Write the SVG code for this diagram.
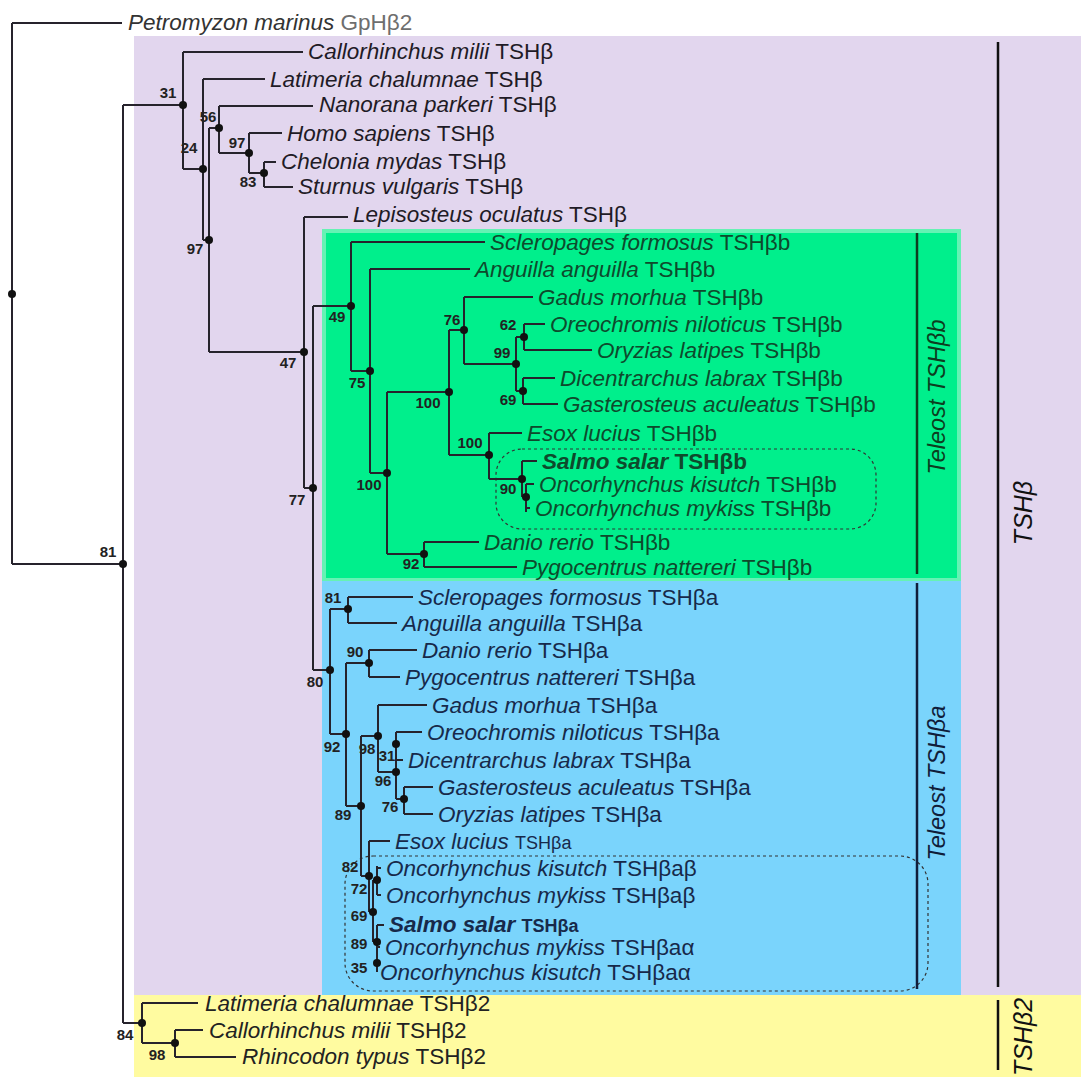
<svg xmlns="http://www.w3.org/2000/svg" width="1081" height="1077" viewBox="0 0 1081 1077">
<style>
.t{font-family:"Liberation Sans",Arial,sans-serif;font-size:22.5px}
.i{font-style:italic}
.bd{font-weight:bold}
.s{font-family:"Liberation Sans",Arial,sans-serif;font-size:15px;font-weight:bold;text-anchor:middle}
.br{stroke:#26232c;stroke-width:2;fill:none}
.dot{fill:#111}
.p{fill:#1f1b26}
.g{fill:#0e4a2c}
.b{fill:#17294a}
.y{fill:#222}
.side{font-family:"Liberation Sans",Arial,sans-serif;font-style:italic}
</style>
<rect width="1081" height="1077" fill="#ffffff"/>
<g id="regions">
<rect x="134" y="36" width="947" height="959" fill="#e2d6ee"/>
<rect x="134" y="995" width="947" height="82" fill="#fffba0"/>
<rect x="324" y="231" width="635" height="349" fill="#00ef8c" stroke="#66f2b4" stroke-width="4"/>
<rect x="322" y="581" width="639" height="414" fill="#7ad4fc"/>
<rect x="496" y="449" width="380" height="80" rx="26" fill="none" stroke="#333" stroke-width="1.2" stroke-dasharray="3,3"/>
<rect x="345" y="856" width="583" height="135" rx="28" fill="none" stroke="#333" stroke-width="1.2" stroke-dasharray="3,3"/>
</g>
<g id="connectors" class="br">
<path d="M12 23V564M12 23H122M12 564H123"/>
<path d="M123 105V1023M123 105H183M123 1023H142"/>
<path d="M183 52V169M183 52H303M183 169H203"/>
<path d="M203 79V240M203 79H265M203 240H209"/>
<path d="M209 128V352M209 128H219M209 352H304"/>
<path d="M219 106V153M219 106H313M219 153H249"/>
<path d="M249 133V173M249 133H282M249 173H264"/>
<path d="M264 162V187M264 162H276M264 187H293"/>
<path d="M304 217V488M304 217H348M304 488H313"/>
<path d="M313 306V670M313 306H351M313 670H330"/>
<path d="M351 242V371M351 242H485M351 371H370"/>
<path d="M370 269V473M370 269H470M370 473H387"/>
<path d="M387 392V554M387 392H449M387 554H424"/>
<path d="M449 330V455M449 330H464M449 455H489"/>
<path d="M464 297V364M464 297H533M464 364H516"/>
<path d="M516 337V391M516 337H524M516 391H523"/>
<path d="M524 324V350M524 324H545M524 350H592"/>
<path d="M523 378V404M523 378H555M523 404H558"/>
<path d="M489 433V479M489 433H522M489 479H522"/>
<path d="M522 461V497M522 461H537M522 497H526"/>
<path d="M526 484V512M526 484H534M526 508H530"/>
<path d="M424 542V567M424 542H479M424 567H517"/>
<path d="M330 609V734M330 609H348M330 734H346"/>
<path d="M348 597V623M348 597H413M348 623H397"/>
<path d="M346 663V806M346 663H369M346 806H361"/>
<path d="M369 650V677M369 650H417M369 677H400"/>
<path d="M361 736V876M361 736H378M361 876H369"/>
<path d="M378 705V772M378 705H427M378 772H396"/>
<path d="M396 732V799M396 732H422M396 760H403M396 799H404"/>
<path d="M404 787V814M404 787H433M404 814H433"/>
<path d="M369 841V912M369 841H390M369 912H373"/>
<path d="M373 880V942M373 880H377M373 942H377"/>
<path d="M377 866V895M377 868H381M377 895H381"/>
<path d="M377 925V972M377 925H384M377 947H380"/>
<path d="M142 1003V1043M142 1003H198M142 1043H175"/>
<path d="M175 1030V1057M175 1030H203M175 1057H236"/>
</g>
<g id="side-bars">
<path d="M917 233V574" stroke="#0d3d20" stroke-width="2.5"/>
<path d="M917 583V989" stroke="#101d3a" stroke-width="2.5"/>
<path d="M998 42V987" stroke="#111" stroke-width="2.5"/>
<path d="M998 1000V1070" stroke="#111" stroke-width="2.5"/>
<text class="side" font-size="23.5" fill="#0d3d20" text-anchor="middle" transform="translate(945 397) rotate(-90)">Teleost TSHβb</text>
<text class="side" font-size="23.5" fill="#101d3a" text-anchor="middle" transform="translate(945 783) rotate(-90)">Teleost TSHβa</text>
<text class="side" font-size="25" fill="#111" text-anchor="middle" transform="translate(1032 513) rotate(-90)">TSHβ</text>
<text class="side" font-size="25" fill="#111" text-anchor="middle" transform="translate(1032 1037) rotate(-90)">TSHβ2</text>
</g>
<g id="internal-nodes">
<g id="n-root"><circle class="dot" cx="12" cy="294" r="4"/></g>
<g id="n81"><circle class="dot" cx="123" cy="564" r="4"/><text class="s" x="108" y="557" fill="#222">81</text></g>
<g id="n31"><circle class="dot" cx="183" cy="105" r="4"/><text class="s" x="168" y="98" fill="#222">31</text></g>
<g id="n24"><circle class="dot" cx="203" cy="169" r="4"/><text class="s" x="189" y="153" fill="#222">24</text></g>
<g id="n97a"><circle class="dot" cx="209" cy="240" r="4"/><text class="s" x="195" y="254" fill="#222">97</text></g>
<g id="n56"><circle class="dot" cx="219" cy="128" r="4"/><text class="s" x="208" y="122" fill="#222">56</text></g>
<g id="n97b"><circle class="dot" cx="249" cy="153" r="4"/><text class="s" x="237" y="148" fill="#222">97</text></g>
<g id="n83"><circle class="dot" cx="264" cy="173" r="4"/><text class="s" x="248" y="187" fill="#222">83</text></g>
<g id="n47"><circle class="dot" cx="304" cy="352" r="4"/><text class="s" x="288" y="368" fill="#222">47</text></g>
<g id="n77"><circle class="dot" cx="313" cy="488" r="4"/><text class="s" x="297" y="505" fill="#222">77</text></g>
<g id="n49"><circle class="dot" cx="351" cy="306" r="4"/><text class="s" x="337" y="322" fill="#222">49</text></g>
<g id="n75"><circle class="dot" cx="370" cy="371" r="4"/><text class="s" x="357" y="388" fill="#222">75</text></g>
<g id="n100c"><circle class="dot" cx="387" cy="473" r="4"/><text class="s" x="369" y="490" fill="#222">100</text></g>
<g id="n100a"><circle class="dot" cx="449" cy="392" r="4"/><text class="s" x="428" y="408" fill="#222">100</text></g>
<g id="n76a"><circle class="dot" cx="464" cy="330" r="4"/><text class="s" x="452" y="325" fill="#222">76</text></g>
<g id="n99"><circle class="dot" cx="516" cy="364" r="4"/><text class="s" x="502" y="358" fill="#222">99</text></g>
<g id="n62"><circle class="dot" cx="524" cy="337" r="4"/><text class="s" x="508" y="330" fill="#222">62</text></g>
<g id="n69a"><circle class="dot" cx="523" cy="391" r="4"/><text class="s" x="508" y="405" fill="#222">69</text></g>
<g id="n100b"><circle class="dot" cx="489" cy="455" r="4"/><text class="s" x="470" y="448" fill="#222">100</text></g>
<g id="n90a"><circle class="dot" cx="522" cy="479" r="4"/><text class="s" x="508" y="494" fill="#222">90</text></g>
<g id="n90a2"><circle class="dot" cx="526" cy="497" r="4"/></g>
<g id="n92a"><circle class="dot" cx="424" cy="554" r="4"/><text class="s" x="411" y="569" fill="#222">92</text></g>
<g id="n80"><circle class="dot" cx="330" cy="670" r="4"/><text class="s" x="315" y="687" fill="#222">80</text></g>
<g id="n81b"><circle class="dot" cx="348" cy="609" r="4"/><text class="s" x="333" y="603" fill="#222">81</text></g>
<g id="n92b"><circle class="dot" cx="346" cy="734" r="4"/><text class="s" x="332" y="752" fill="#222">92</text></g>
<g id="n90b"><circle class="dot" cx="369" cy="663" r="4"/><text class="s" x="355" y="657" fill="#222">90</text></g>
<g id="n89a"><circle class="dot" cx="361" cy="806" r="4"/><text class="s" x="343" y="820" fill="#222">89</text></g>
<g id="n98a"><circle class="dot" cx="378" cy="736" r="4"/><text class="s" x="367" y="754" fill="#222">98</text></g>
<g id="n96"><circle class="dot" cx="396" cy="772" r="4"/><text class="s" x="383" y="786" fill="#222">96</text></g>
<g id="n31b"><circle class="dot" cx="396" cy="744" r="4"/><text class="s" x="387" y="761" fill="#222">31</text></g>
<g id="n76b"><circle class="dot" cx="404" cy="799" r="4"/><text class="s" x="390" y="812" fill="#222">76</text></g>
<g id="n82"><circle class="dot" cx="369" cy="876" r="4"/><text class="s" x="350" y="872" fill="#222">82</text></g>
<g id="n72"><circle class="dot" cx="377" cy="880" r="4"/><text class="s" x="359" y="894" fill="#222">72</text></g>
<g id="n69b"><circle class="dot" cx="373" cy="912" r="4"/><text class="s" x="359" y="921" fill="#222">69</text></g>
<g id="n89b"><circle class="dot" cx="377" cy="942" r="4"/><text class="s" x="359" y="949" fill="#222">89</text></g>
<g id="n35"><circle class="dot" cx="377" cy="963" r="4"/><text class="s" x="359" y="973" fill="#222">35</text></g>
<g id="n84"><circle class="dot" cx="142" cy="1023" r="4"/><text class="s" x="125" y="1040" fill="#222">84</text></g>
<g id="n98y"><circle class="dot" cx="175" cy="1043" r="4"/><text class="s" x="157" y="1060" fill="#222">98</text></g>
</g>
<g id="leaves">
<g id="l-petromyzon"><text class="t" x="128" y="30" fill="#333"><tspan class="i">Petromyzon marinus</tspan><tspan fill="#6e6e6e"> GpHβ2</tspan></text></g>
<g id="l-callorhinchus"><text class="t p" x="308" y="59"><tspan class="i">Callorhinchus milii</tspan> TSHβ</text></g>
<g id="l-latimeria"><text class="t p" x="270" y="87"><tspan class="i">Latimeria chalumnae</tspan> TSHβ</text></g>
<g id="l-nanorana"><text class="t p" x="319" y="112"><tspan class="i">Nanorana parkeri</tspan> TSHβ</text></g>
<g id="l-homo"><text class="t p" x="287" y="141"><tspan class="i">Homo sapiens</tspan> TSHβ</text></g>
<g id="l-chelonia"><text class="t p" x="281" y="169"><tspan class="i">Chelonia mydas</tspan> TSHβ</text></g>
<g id="l-sturnus"><text class="t p" x="298" y="194"><tspan class="i">Sturnus vulgaris</tspan> TSHβ</text></g>
<g id="l-lepisosteus"><text class="t p" x="353" y="222"><tspan class="i">Lepisosteus oculatus</tspan> TSHβ</text></g>

<g id="l-scl-b"><text class="t g" x="490" y="250"><tspan class="i">Scleropages formosus</tspan> TSHβb</text></g>
<g id="l-ang-b"><text class="t g" x="475" y="277"><tspan class="i">Anguilla anguilla</tspan> TSHβb</text></g>
<g id="l-gad-b"><text class="t g" x="538" y="305"><tspan class="i">Gadus morhua</tspan> TSHβb</text></g>
<g id="l-ore-b"><text class="t g" x="550" y="332"><tspan class="i">Oreochromis niloticus</tspan> TSHβb</text></g>
<g id="l-ory-b"><text class="t g" x="597" y="358"><tspan class="i">Oryzias latipes</tspan> TSHβb</text></g>
<g id="l-dic-b"><text class="t g" x="560" y="386"><tspan class="i">Dicentrarchus labrax</tspan> TSHβb</text></g>
<g id="l-gas-b"><text class="t g" x="563" y="412"><tspan class="i">Gasterosteus aculeatus</tspan> TSHβb</text></g>
<g id="l-eso-b"><text class="t g" x="527" y="441"><tspan class="i">Esox lucius</tspan> TSHβb</text></g>
<g id="l-sal-b"><text class="t g bd" x="542" y="469"><tspan class="i">Salmo salar</tspan> TSHβb</text></g>
<g id="l-oki-b"><text class="t g" x="539" y="492"><tspan class="i">Oncorhynchus kisutch</tspan> TSHβb</text></g>
<g id="l-omy-b"><text class="t g" x="535" y="516"><tspan class="i">Oncorhynchus mykiss</tspan> TSHβb</text></g>
<g id="l-dan-b"><text class="t g" x="484" y="550"><tspan class="i">Danio rerio</tspan> TSHβb</text></g>
<g id="l-pyg-b"><text class="t g" x="522" y="575"><tspan class="i">Pygocentrus nattereri</tspan> TSHβb</text></g>

<g id="l-scl-a"><text class="t b" x="418" y="605"><tspan class="i">Scleropages formosus</tspan> TSHβa</text></g>
<g id="l-ang-a"><text class="t b" x="402" y="631"><tspan class="i">Anguilla anguilla</tspan> TSHβa</text></g>
<g id="l-dan-a"><text class="t b" x="422" y="658"><tspan class="i">Danio rerio</tspan> TSHβa</text></g>
<g id="l-pyg-a"><text class="t b" x="405" y="685"><tspan class="i">Pygocentrus nattereri</tspan> TSHβa</text></g>
<g id="l-gad-a"><text class="t b" x="432" y="713"><tspan class="i">Gadus morhua</tspan> TSHβa</text></g>
<g id="l-ore-a"><text class="t b" x="427" y="740"><tspan class="i">Oreochromis niloticus</tspan> TSHβa</text></g>
<g id="l-dic-a"><text class="t b" x="408" y="768"><tspan class="i">Dicentrarchus labrax</tspan> TSHβa</text></g>
<g id="l-gas-a"><text class="t b" x="438" y="795"><tspan class="i">Gasterosteus aculeatus</tspan> TSHβa</text></g>
<g id="l-ory-a"><text class="t b" x="438" y="822"><tspan class="i">Oryzias latipes</tspan> TSHβa</text></g>
<g id="l-eso-a"><text class="t b" x="395" y="849"><tspan class="i">Esox lucius</tspan> <tspan font-size="18">TSHβa</tspan></text></g>
<g id="l-oki-ab"><text class="t b" x="386" y="876"><tspan class="i">Oncorhynchus kisutch</tspan> TSHβaβ</text></g>
<g id="l-omy-ab"><text class="t b" x="386" y="903"><tspan class="i">Oncorhynchus mykiss</tspan> TSHβaβ</text></g>
<g id="l-sal-a"><text class="t b bd" x="389" y="932"><tspan class="i">Salmo salar</tspan> <tspan font-size="18">TSHβa</tspan></text></g>
<g id="l-omy-aa"><text class="t b" x="385" y="955"><tspan class="i">Oncorhynchus mykiss</tspan> TSHβaα</text></g>
<g id="l-oki-aa"><text class="t b" x="380" y="980"><tspan class="i">Oncorhynchus kisutch</tspan> TSHβaα</text></g>

<g id="l-lat-2"><text class="t y" x="205" y="1011"><tspan class="i">Latimeria chalumnae</tspan> TSHβ2</text></g>
<g id="l-cal-2"><text class="t y" x="209" y="1038"><tspan class="i">Callorhinchus milii</tspan> TSHβ2</text></g>
<g id="l-rhi-2"><text class="t y" x="242" y="1064"><tspan class="i">Rhincodon typus</tspan> TSHβ2</text></g>
</g>
</svg>
